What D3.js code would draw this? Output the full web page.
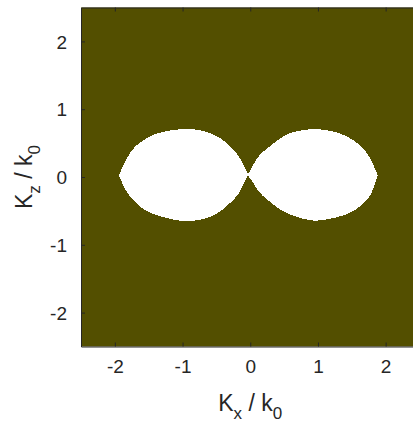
<!DOCTYPE html>
<html>
<head>
<meta charset="utf-8">
<script src="https://cdn.jsdelivr.net/npm/d3@7"></script>
<style>
  body { margin: 0; background: #fff; }
  text { font-family: "Liberation Sans", Arial, Helvetica, sans-serif; fill: #262626; }
</style>
</head>
<body>
<svg id="chart" width="413" height="430"></svg>
<script>
// Axis settings
const xDomain = [-2.5, 2.5];
const yDomain = [-2.5, 2.5];
const xTicks = [-2, -1, 0, 1, 2];
const yTicks = [-2, -1, 0, 1, 2];

// Boundary of the left allowed region: [Kx/k0, Kz/k0], left tip to right tip
const leftUpper = [
  [-1.939, 0.024], [-1.851, 0.230], [-1.777, 0.354], [-1.703, 0.452], [-1.604, 0.526],
  [-1.507, 0.585], [-1.408, 0.635], [-1.260, 0.674], [-1.112, 0.699], [-0.965, 0.710],
  [-0.817, 0.705], [-0.669, 0.676], [-0.522, 0.624], [-0.374, 0.528], [-0.270, 0.425],
  [-0.196, 0.344], [-0.137, 0.255], [-0.089, 0.156], [-0.053, 0.083], [-0.030, 0.034]
];
const leftLower = [
  [-1.939, 0.024], [-1.851, -0.188], [-1.777, -0.286], [-1.703, -0.369], [-1.604, -0.458],
  [-1.507, -0.517], [-1.408, -0.557], [-1.260, -0.597], [-1.112, -0.638], [-0.920, -0.656],
  [-0.718, -0.632], [-0.522, -0.569], [-0.374, -0.455], [-0.275, -0.362], [-0.201, -0.288],
  [-0.152, -0.214], [-0.103, -0.115], [-0.053, -0.016], [-0.030, 0.034]
];

// Boundary of the right allowed region
const rightUpper = [
  [-0.044, 0.027], [-0.004, 0.083], [0.044, 0.182], [0.118, 0.304], [0.192, 0.378],
  [0.291, 0.452], [0.409, 0.551], [0.561, 0.642], [0.705, 0.684], [0.907, 0.709],
  [1.059, 0.703], [1.207, 0.678], [1.355, 0.633], [1.458, 0.582], [1.554, 0.523],
  [1.650, 0.445], [1.724, 0.352], [1.798, 0.229], [1.882, 0.027]
];
const rightLower = [
  [-0.044, 0.027], [0.021, -0.040], [0.069, -0.139], [0.143, -0.236], [0.217, -0.310],
  [0.316, -0.384], [0.409, -0.461], [0.561, -0.547], [0.705, -0.594], [0.907, -0.653],
  [1.103, -0.635], [1.251, -0.601], [1.399, -0.561], [1.498, -0.517], [1.595, -0.458],
  [1.694, -0.369], [1.768, -0.286], [1.813, -0.187], [1.882, 0.027]
];

const svg = d3.select("#chart");
const x = d3.scaleLinear().domain(xDomain).range([81, 419.5]);
const y = d3.scaleLinear().domain(yDomain).range([346.5, 7.5]);

const plotW = x(xDomain[1]) - x(xDomain[0]);
const plotH = y(yDomain[0]) - y(yDomain[1]);

// Background of the map
svg.append("rect")
  .attr("x", x(xDomain[0])).attr("y", y(yDomain[1]))
  .attr("width", plotW).attr("height", plotH)
  .attr("fill", "#534f00");

// White regions: upper arc left to right, then lower arc right to left
const edge = d3.line().x(d => x(d[0])).y(d => y(d[1])).curve(d3.curveBasis);
function regionPath(upper, lower) {
  const a = edge(upper);
  const b = edge(lower.slice().reverse());
  return a + "L" + b.slice(1) + "Z";
}
svg.append("path").attr("d", regionPath(leftUpper, leftLower))
  .attr("fill", "#fff").attr("shape-rendering", "crispEdges");
svg.append("path").attr("d", regionPath(rightUpper, rightLower))
  .attr("fill", "#fff").attr("shape-rendering", "crispEdges");

// Axes with inward ticks (box style); plain hyphen for negative labels
const fmt = d => String(d);
const fs = 19;
const axBottom = svg.append("g").attr("transform", `translate(0,${y(yDomain[0])})`)
  .call(d3.axisBottom(x).tickValues(xTicks).tickSizeInner(-4).tickSizeOuter(0).tickPadding(13).tickFormat(fmt));
const axTop = svg.append("g").attr("transform", `translate(0,${y(yDomain[1])})`)
  .call(d3.axisTop(x).tickValues(xTicks).tickSizeInner(-4).tickSizeOuter(0).tickFormat(""));
const axLeft = svg.append("g").attr("transform", `translate(${x(xDomain[0])},0)`)
  .call(d3.axisLeft(y).tickValues(yTicks).tickSizeInner(-4).tickSizeOuter(0).tickPadding(14).tickFormat(fmt));

[axBottom, axTop, axLeft].forEach(g => {
  g.select(".domain").attr("stroke", "#262626").attr("stroke-width", 1);
  g.selectAll(".tick line").attr("stroke", "#262626");
  g.selectAll(".tick text").attr("font-size", fs).attr("font-family", "Liberation Sans, Arial, sans-serif").attr("fill", "#262626");
});
axLeft.selectAll(".tick text").attr("dy", "0.35em");

// Axis titles
const lfs = 23, sfs = 17, sub = 8;
const xl = svg.append("text").attr("x", x(0)).attr("y", 411).attr("text-anchor", "middle").attr("font-size", lfs);
xl.append("tspan").text("K");
xl.append("tspan").attr("font-size", sfs).attr("dy", sub).text("x");
xl.append("tspan").attr("dy", -sub).text(" / k");
xl.append("tspan").attr("font-size", sfs).attr("dy", sub).text("0");

const yl = svg.append("text").attr("transform", `translate(32,${y(0)}) rotate(-90)`)
  .attr("text-anchor", "middle").attr("font-size", lfs);
yl.append("tspan").text("K");
yl.append("tspan").attr("font-size", sfs).attr("dy", sub).text("z");
yl.append("tspan").attr("dy", -sub).text(" / k");
yl.append("tspan").attr("font-size", sfs).attr("dy", sub).text("0");
</script>
</body>
</html>
